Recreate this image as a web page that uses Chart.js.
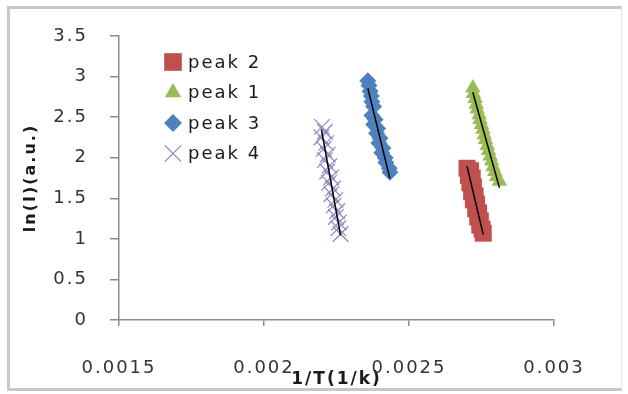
<!DOCTYPE html>
<html>
<head>
<meta charset="utf-8">
<title>peaks</title>
<script src="https://cdn.jsdelivr.net/npm/chart.js@4.4.1/dist/chart.umd.min.js"></script>
<style>
  html, body { margin: 0; padding: 0; background: #fff; }
  #wrap { position: relative; width: 628px; height: 394px; overflow: hidden; }
  #frame { position: absolute; left: 7px; top: 6px; width: 615px; height: 385px; box-sizing: border-box;
           border: 3px solid #c8c8c8; border-right: 1px solid #e6e6e6; }
  #chart { position: absolute; left: 0; top: 0; }
</style>
</head>
<body>
<div id="wrap">
  <div id="frame"></div>
  <canvas id="chart" width="628" height="394"></canvas>
</div>
<script>
'use strict';

/* ---- data ---- */
const seriesNames = ['peak 2', 'peak 1', 'peak 3', 'peak 4'];

const peak2X = [0.002700, 0.002712, 0.002705, 0.002718, 0.002710, 0.002722, 0.002716, 0.002728, 0.002722,
                0.002733, 0.002730, 0.002740, 0.002737, 0.002746, 0.002744, 0.002752, 0.002756];
const peak2Y = [1.87, 1.84, 1.78, 1.75, 1.69, 1.64, 1.58, 1.53, 1.48, 1.43, 1.37, 1.32, 1.27, 1.22, 1.17, 1.12, 1.07];

const peak1X = [0.002720, 0.002722, 0.002728, 0.002732, 0.002735, 0.002742, 0.002745, 0.002750, 0.002755, 0.002760,
                0.002764, 0.002770, 0.002774, 0.002780, 0.002785, 0.002790, 0.002796, 0.002802, 0.002812];
const peak1Y = [2.86, 2.79, 2.73, 2.66, 2.60, 2.53, 2.47, 2.41, 2.35, 2.28, 2.22, 2.15, 2.09, 2.02, 1.96, 1.89, 1.83, 1.77, 1.71];

const peak3X = [0.002358, 0.002362, 0.002366, 0.002370, 0.002372, 0.002378, 0.002372, 0.002383, 0.002378, 0.002392,
                0.002388, 0.002400, 0.002396, 0.002410, 0.002406, 0.002418, 0.002420, 0.002432, 0.002434];
const peak3Y = [2.95, 2.89, 2.82, 2.76, 2.69, 2.63, 2.52, 2.47, 2.41, 2.36, 2.30, 2.24, 2.18, 2.12, 2.06, 2.00, 1.94, 1.87, 1.82];

const peak4X = [0.002200, 0.002210, 0.002198, 0.002214, 0.002206, 0.002220, 0.002210, 0.002226, 0.002218, 0.002232,
                0.002224, 0.002238, 0.002232, 0.002246, 0.002240, 0.002252, 0.002248, 0.002258, 0.002256, 0.002264];
const peak4Y = [2.38, 2.32, 2.25, 2.18, 2.11, 2.04, 1.97, 1.90, 1.83, 1.76, 1.69, 1.62, 1.55, 1.48, 1.41, 1.34, 1.27, 1.20, 1.13, 1.06];

const xTicks = [0.0015, 0.002, 0.0025, 0.003];
const xTickLabels = ['0.0015', '0.002', '0.0025', '0.003'];
const yTicks = [0, 0.5, 1, 1.5, 2, 2.5, 3, 3.5];
const yTickLabels = ['0', '0.5', '1', '1.5', '2', '2.5', '3', '3.5'];

/* ---- styles ---- */
const styles = [
  { color: '#c0504d', pointStyle: 'rect',     radius: 12, borderWidth: 0 },
  { color: '#9bbb59', pointStyle: 'triangle', radius: 9, borderWidth: 0 },
  { color: '#4f81bd', pointStyle: 'rectRot',  radius: 8.5, borderWidth: 0 },
  { color: '#8f86c2', pointStyle: 'crossRot', radius: 11, borderWidth: 1.2 }
];

const FONT = "'DejaVu Sans', sans-serif";

const toPoints = (xs, ys) => xs.map((x, i) => ({ x, y: ys[i] }));

// least-squares trend line over the x range of the series
function trend(pts) {
  const n = pts.length;
  let sx = 0, sy = 0, sxx = 0, sxy = 0;
  pts.forEach(p => { sx += p.x; sy += p.y; sxx += p.x * p.x; sxy += p.x * p.y; });
  const slope = (n * sxy - sx * sy) / (n * sxx - sx * sx);
  const icpt = (sy - slope * sx) / n;
  const xs = pts.map(p => p.x);
  const lo = Math.min(...xs), hi = Math.max(...xs);
  return [{ x: lo, y: icpt + slope * lo }, { x: hi, y: icpt + slope * hi }];
}

const series = [toPoints(peak2X, peak2Y), toPoints(peak1X, peak1Y), toPoints(peak3X, peak3Y), toPoints(peak4X, peak4Y)];

const datasets = [];
series.forEach((pts, i) => {
  const s = styles[i];
  datasets.push({
    label: seriesNames[i],
    data: pts,
    order: 2,
    pointStyle: s.pointStyle,
    pointRadius: s.radius,
    pointBackgroundColor: s.color,
    pointBorderColor: s.color,
    pointBorderWidth: s.borderWidth,
    showLine: false
  });
  datasets.push({
    label: 'trend ' + seriesNames[i],
    data: trend(pts),
    order: 1,
    showLine: true,
    borderColor: '#000',
    borderWidth: 1.5,
    pointRadius: 0
  });
});

/* ---- plugins ---- */
const spacing = {
  id: 'spacing',
  beforeUpdate(c) { c.ctx.letterSpacing = '2px'; },
  beforeDraw(c) { c.ctx.letterSpacing = '2px'; }
};

const insideLegend = {
  id: 'insideLegend',
  afterDraw(c) {
    const ctx = c.ctx;
    ctx.save();
    ctx.letterSpacing = '2px';
    ctx.font = '18px ' + FONT;
    ctx.textBaseline = 'middle';
    ctx.textAlign = 'left';
    seriesNames.forEach((name, i) => {
      const s = styles[i];
      const y = 62 + i * 30.5;
      ctx.fillStyle = s.color;
      ctx.strokeStyle = s.color;
      ctx.lineWidth = s.borderWidth;
      Chart.helpers.drawPoint(ctx, { pointStyle: s.pointStyle, radius: s.radius + 0.5, rotation: 0, borderWidth: s.borderWidth }, 173, y);
      ctx.fillStyle = '#1a1a1a';
      ctx.fillText(name, 188, y + 1);
    });
    ctx.restore();
  }
};

new Chart(document.getElementById('chart'), {
  type: 'scatter',
  data: { datasets },
  options: {
    responsive: false,
    animation: false,
    events: [],
    layout: { padding: { left: 0, right: 74, top: 36, bottom: 0 } },
    plugins: { legend: { display: false }, tooltip: { enabled: false } },
    scales: {
      x: {
        type: 'linear',
        min: 0.0015,
        max: 0.003,
        afterFit: s => { s.height = 74; },
        afterBuildTicks: s => { s.ticks = xTicks.map(v => ({ value: v })); },
        grid: { drawOnChartArea: false, drawTicks: true, tickLength: 6, color: '#8c8c8c', lineWidth: 1.5 },
        border: { color: '#8c8c8c', width: 1.5 },
        ticks: {
          padding: 32,
          color: '#333',
          font: { family: FONT, size: 18 },
          maxRotation: 0,
          callback: (v, i) => xTickLabels[i]
        },
        title: {
          display: true,
          text: '1/T(1/k)',
          color: '#1a1a1a',
          font: { family: FONT, size: 17, weight: 'bold' },
          padding: { top: 0, bottom: 4 }
        }
      },
      y: {
        min: 0,
        max: 3.5,
        afterFit: s => { s.width = 119; },
        afterBuildTicks: s => { s.ticks = yTicks.map(v => ({ value: v })); },
        grid: { drawOnChartArea: false, drawTicks: true, tickLength: 9, color: '#8c8c8c', lineWidth: 1.5 },
        border: { color: '#8c8c8c', width: 1.5 },
        ticks: {
          padding: 22,
          color: '#333',
          font: { family: FONT, size: 18 },
          callback: (v, i) => yTickLabels[i]
        },
        title: {
          display: true,
          text: 'ln(I)(a.u.)',
          color: '#1a1a1a',
          font: { family: FONT, size: 16, weight: 'bold' },
          padding: { top: 21, bottom: 0 }
        }
      }
    }
  },
  plugins: [spacing, insideLegend]
});
</script>
</body>
</html>
